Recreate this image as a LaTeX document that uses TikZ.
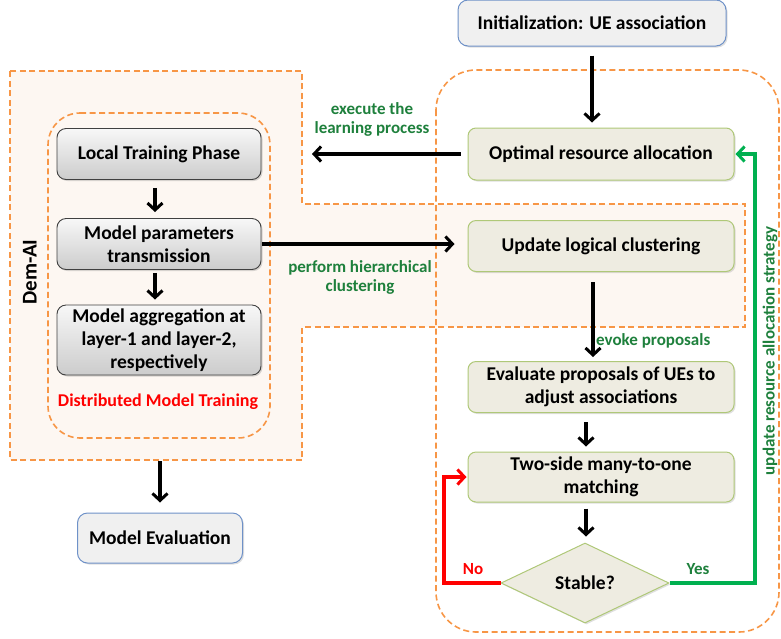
\documentclass[tikz,border=0pt]{standalone}
\usepackage{fontspec}
\setmainfont{Carlito}
\usetikzlibrary{arrows.meta,shapes.geometric,shadows}
\definecolor{orangeD}{RGB}{247,150,70}
\definecolor{peach}{RGB}{253,247,242}
\definecolor{tanfill}{RGB}{238,236,225}
\definecolor{tanborder}{RGB}{175,200,120}
\definecolor{bluefill}{RGB}{240,240,240}
\definecolor{blueborder}{RGB}{110,145,200}
\definecolor{txtgreen}{RGB}{30,128,60}
\definecolor{linegreen}{RGB}{0,176,80}
\tikzset{
  every node/.style={font=\fontsize{19.5}{23}\selectfont\bfseries, align=center, inner sep=0pt},
  region/.style={draw=orangeD, line width=1.6pt, dash pattern=on 6pt off 3.5pt},
  tanbox/.style={draw=tanborder, line width=1pt, fill=tanfill, rounded corners=8pt, minimum width=266pt, drop shadow={shadow xshift=1.5pt, shadow yshift=-1.5pt, opacity=0.25}},
  graybox/.style={draw=black!75, line width=0.9pt, top color=gray!6, bottom color=gray!40, rounded corners=9pt, minimum width=204pt, drop shadow={shadow xshift=1.5pt, shadow yshift=-1.5pt, opacity=0.3}},
  bluebox/.style={draw=blueborder, line width=1pt, fill=bluefill, rounded corners=10pt, drop shadow={shadow xshift=1.5pt, shadow yshift=-1.5pt, opacity=0.25}},
  tip/.style={-{Straight Barb[length=7pt,width=15pt,line width=3pt]}},
  flow/.style={draw=black, line width=3.2pt, tip},
  lbl/.style={text=txtgreen, font=\fontsize{17}{19}\selectfont\bfseries},
}
\begin{document}
\begin{tikzpicture}[x=1pt,y=-1pt]
\useasboundingbox (0,0) rectangle (781,638);
% Dem-AI region
\draw[region, fill=peach] (10,71) -- (302,71) -- (302,204) -- (745,204) -- (745,327) -- (302,327) -- (302,460) -- (10,460) -- cycle;
% distributed model training region
\draw[region] (48,113) [rounded corners=32pt] -- (270,113) -- (270,438) -- (48,438) -- cycle;
\draw[region, rounded corners=40pt] (436,70) rectangle (779,632);

% nodes
\node[bluebox, minimum width=268pt, minimum height=46pt] (init) at (592,23) {Initialization: UE association};
\node[tanbox, minimum height=52pt] (opt) at (601,154) {Optimal resource allocation};
\node[tanbox, minimum height=51pt] (upd) at (601,246) {Update logical clustering};
\node[tanbox, minimum height=51pt] (eval) at (601,387) {Evaluate proposals of UEs to\\adjust associations};
\node[tanbox, minimum height=50pt] (two) at (601,477) {Two-side many-to-one\\matching};
\node[diamond, draw=tanborder, line width=1pt, fill=tanfill, minimum width=168pt, minimum height=80pt, drop shadow={shadow xshift=1.5pt, shadow yshift=-1.5pt, opacity=0.25}] (stable) at (585,583) {Stable?};

\node[graybox, minimum height=51pt] (local) at (159,154) {Local Training Phase};
\node[graybox, minimum height=51pt] (params) at (159,244) {Model parameters\\transmission};
\node[graybox, minimum height=70pt] (aggr) at (159,340) {Model aggregation at\\layer-1 and layer-2,\\respectively};
\node[text=red, font=\fontsize{18}{20}\selectfont\bfseries] (dmt) at (158,402) {Distributed Model Training};
\node[bluebox, minimum width=165pt, minimum height=50pt] (meval) at (160,538) {Model Evaluation};
\node[rotate=90, font=\fontsize{21}{23}\selectfont\bfseries] (demai) at (30,272) {Dem-AI};

% coordinates
\coordinate (execend) at (312,154);
\coordinate (dembot) at (160,461);
\coordinate (nocorner) at (444,583);
\coordinate (yescorner) at (755,583);

% arrows
\draw[flow, shorten <=9pt, shorten >=5pt] (init.south) -- (init.south |- opt.north);
\draw[flow, shorten <=7pt] (opt.west) -- (execend);
\draw[flow, shorten <=1pt, shorten >=13pt] (params.east) -- (params.east -| upd.west);
\draw[flow, shorten <=10pt, shorten >=4pt] ([xshift=-8pt]upd.south) -- ([xshift=-8pt]eval.north);
\draw[flow, shorten <=9pt, shorten >=5pt] ([xshift=-15pt]eval.south) -- ([xshift=-15pt]two.north);
\draw[flow, shorten <=6pt, shorten >=6pt] ([xshift=-15pt]two.south) -- ([xshift=1pt]stable.north);
\draw[flow, shorten <=8pt, shorten >=6pt] ([xshift=-4pt]local.south) -- ([xshift=-4pt]params.north);
\draw[flow, shorten <=3pt, shorten >=5pt] ([xshift=-4pt]params.south) -- ([xshift=-4pt]aggr.north);
\draw[flow, shorten >=10pt] (dembot) -- (meval.north);

\draw[red, line width=3.2pt, tip, shorten >=1pt] (stable.west) -- (nocorner) |- (two.west);
\draw[linegreen, line width=3.2pt, tip, shorten >=1pt] (stable.east) -- (yescorner) |- (opt.east);

% labels
\node[lbl] (lexec) at (372,119) {execute the\\learning process};
\node[lbl] (lperf) at (360,277) {perform hierarchical\\clustering};
\node[lbl, anchor=west] (levoke) at (596,341) {evoke proposals};
\node[lbl, text=red] (lno) at (473,569) {No};
\node[lbl] (lyes) at (698,569) {Yes};
\node[lbl, rotate=90] (lupd) at (770,351) {update resource allocation strategy};
\end{tikzpicture}
\end{document}
